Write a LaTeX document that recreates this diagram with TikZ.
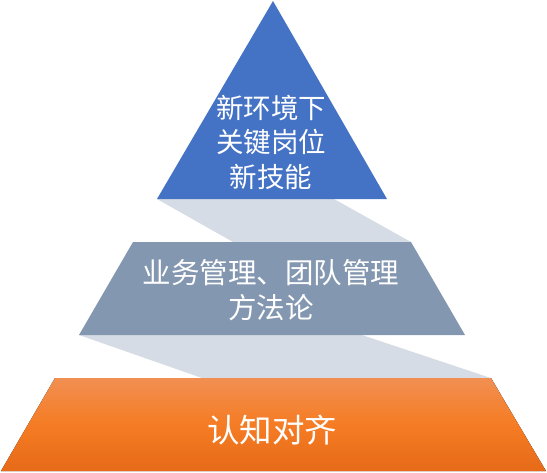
\documentclass[tikz,border=0pt]{standalone}
\usepackage{fontspec}
\newfontfamily\cjk{Noto Sans CJK SC}
\definecolor{topblue}{RGB}{68,114,196}
\definecolor{midgrey}{RGB}{132,151,176}
\definecolor{shadowgrey}{RGB}{214,220,229}
\definecolor{lightorange}{RGB}{241,143,82}
\definecolor{deeporange}{RGB}{245,124,36}
\definecolor{darkorange}{RGB}{230,106,24}

\tikzset{
  level text/.style={text=white, align=center, font=\cjk\fontsize{27.5}{34.5}\selectfont},
}

\begin{document}
\begin{tikzpicture}[x=1pt,y=-1pt]
  \useasboundingbox (0,0) rectangle (547,472);
  % side panels
  \fill[shadowgrey] (157,199) -- (334,199) -- (411,242) -- (233,242) -- cycle;
  \fill[shadowgrey] (79,335) -- (362,335) -- (491,378) -- (202,378) -- cycle;
  % levels
  \fill[topblue] (273,1) -- (387,199) -- (157,199) -- cycle;
  \fill[midgrey] (133,242) -- (411,242) -- (465,335) -- (79,335) -- cycle;
\fill[
  top color=lightorange,
  bottom color=darkorange,
  middle color=deeporange,
  shading=axis
  ]
  (55,378) -- (491,378) -- (546,471) -- (1,471) -- cycle;
  \node[level text] (peak) at (271,142) {新环境下\\关键岗位\\新技能};
  \node[level text, font=\cjk\fontsize{28.5}{35}\selectfont] (method) at (271,290) {业务管理、团队管理\\方法论};
  \node[level text, font=\cjk\fontsize{32.5}{38}\selectfont] (base) at (272,430) {认知对齐};
\end{tikzpicture}
\end{document}
